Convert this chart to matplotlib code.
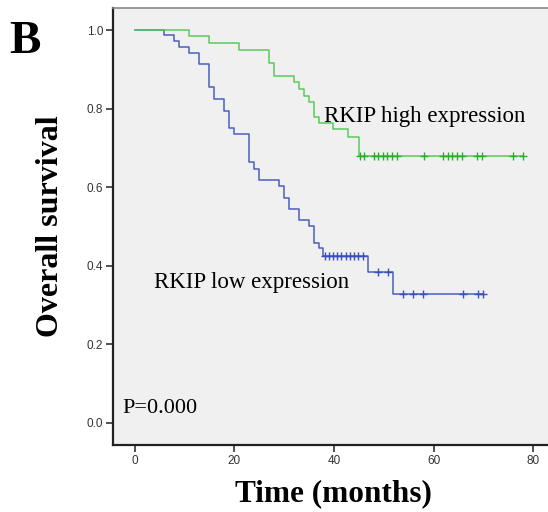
import numpy as np
import matplotlib.pyplot as plt

# Kaplan-Meier steps (months, survival)
high_t = [0, 10.9, 14.9, 20.9, 26.9, 27.9, 31.9, 32.9, 33.9, 34.9, 35.9, 36.9, 39.9, 42.9, 45.0]
high_s = [1.0, 0.986, 0.968, 0.950, 0.917, 0.883, 0.868, 0.849, 0.831, 0.816, 0.779, 0.764, 0.747, 0.729, 0.679]
high_cens = [45.2, 46.0, 48.0, 48.9, 49.8, 50.7, 51.7, 52.7, 58.0, 62.0, 62.9, 63.8, 64.7, 65.7,
             68.8, 69.7, 76.0, 78.0]

low_t = [0, 5.9, 7.9, 8.9, 10.9, 12.9, 14.9, 15.9, 17.9, 18.9, 19.9, 23.0, 24.0, 25.0, 29.0,
         30.0, 31.0, 33.0, 35.0, 36.0, 37.0, 37.7, 46.9, 51.9]
low_s = [1.0, 0.987, 0.973, 0.958, 0.942, 0.914, 0.855, 0.824, 0.795, 0.751, 0.736, 0.663, 0.647,
         0.618, 0.603, 0.573, 0.545, 0.517, 0.501, 0.457, 0.445, 0.426, 0.385, 0.328]
low_cens = [38.1, 39.0, 39.8, 40.6, 41.5, 42.4, 43.2, 44.0, 44.9, 45.8, 48.9, 50.9,
            53.9, 55.9, 57.9, 65.9, 69.0, 69.9]

green_line = '#5cc85c'
green_mark = '#2aae2a'
blue_line = '#4a5fbf'
blue_mark = '#3a50b8'

fig = plt.figure(figsize=(5.48, 5.12), dpi=100)
ax = fig.add_axes([113 / 548, 1 - 445 / 512, 440 / 548, 437 / 512])
ax.set_facecolor('#f0f0f0')


def km(ax, t, s, cens, lc, mc):
    t = list(t) + [max(cens)]
    s = list(s) + [s[-1]]
    ax.step(t, s, where='post', color=lc, lw=1.1, zorder=3)
    idx = np.searchsorted(np.array(t), np.array(cens), side='right') - 1
    ax.plot(cens, np.array(s)[idx], ls='none', marker='+', ms=6, mew=1.0, color=mc, zorder=4)


km(ax, low_t, low_s, low_cens, blue_line, blue_mark)
km(ax, high_t, high_s, high_cens, green_line, green_mark)

ax.set_xlim(-4.4, 84)
ax.set_ylim(-0.056, 1.056)
ax.set_xticks([0, 20, 40, 60, 80])
ax.set_yticks([0.0, 0.2, 0.4, 0.6, 0.8, 1.0])
ax.set_yticklabels(['0.0', '0.2', '0.4', '0.6', '0.8', '1.0'])
ax.tick_params(labelsize=8.5, length=5, width=1.2, colors='#333333', pad=2)
for lab in ax.get_xticklabels() + ax.get_yticklabels():
    lab.set_family('Liberation Sans')
for side in ['left', 'bottom']:
    ax.spines[side].set_linewidth(1.6)
    ax.spines[side].set_color('#222222')
ax.spines['top'].set_linewidth(1.2)
ax.spines['top'].set_color('#888888')
ax.spines['right'].set_visible(False)

serif = 'Liberation Serif'
ax.text(38, 0.78, 'RKIP high expression', family=serif, fontsize=16.5, va='center', ha='left')
ax.text(3.8, 0.357, 'RKIP low expression', family=serif, fontsize=16.5, va='center', ha='left')
ax.text(-2.5, 0.037, 'P=0.000', family=serif, fontsize=16, va='center', ha='left')

ax.set_xlabel('Time (months)', family=serif, fontsize=22.5, fontweight='bold', labelpad=9)
ax.set_ylabel('Overall survival', family=serif, fontsize=23, fontweight='bold', labelpad=16)
fig.text(9 / 548, 1 - 42 / 512, 'B', family=serif, fontsize=34, fontweight='bold', va='center', ha='left')

fig.savefig('out.png', dpi=100)
